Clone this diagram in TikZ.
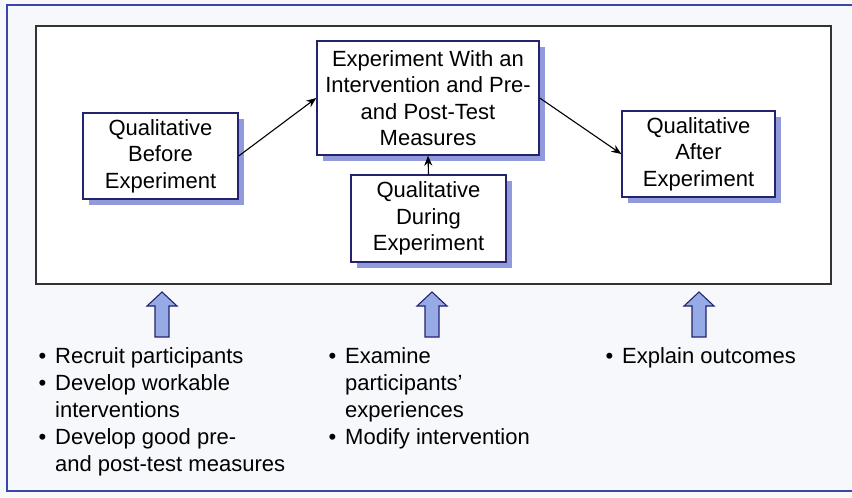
\documentclass[tikz,border=0pt]{standalone}
\usepackage{fontspec}
\setmainfont{Liberation Sans}
\usetikzlibrary{arrows.meta,shadows}

\definecolor{frameblue}{RGB}{60,70,170}
\definecolor{boxline}{RGB}{35,35,110}
\definecolor{shadeblue}{RGB}{145,155,220}
\definecolor{arrowfill}{RGB}{150,170,230}
\definecolor{paper}{RGB}{247,248,252}

\begin{document}
\begin{tikzpicture}[x=1pt,y=-1pt,
    stage/.style={draw=boxline,line width=1.4pt,fill=white,align=center,inner sep=0pt,
      font=\fontsize{22}{26.5}\selectfont,
      drop shadow={shadow xshift=6pt,shadow yshift=-6pt,fill=shadeblue,opacity=1}},
    link/.style={-{Stealth[length=10pt,width=8pt]},line width=1.1pt},
    upblock/.style={draw=boxline,line width=1.1pt,fill=arrowfill},
    bullets/.style={anchor=base west,inner sep=0pt,font=\fontsize{22}{27}\selectfont}]

    \useasboundingbox (0,0) rectangle (852,498);
    \fill[paper] (0,0) rectangle (852,498);

    \draw[frameblue,line width=1.2pt] (856,5) -- (7,5) -- (7,491) -- (856,491);
    \draw[black!80,line width=1.1pt,fill=white] (36,26) rectangle (831,284);

    \node[stage,minimum width=155pt,minimum height=86pt] (before) at (160.5,156)
        {Qualitative\\Before\\Experiment};
    \node[stage,minimum width=222pt,minimum height=114pt] (main) at (428,98)
        {Experiment With an\\Intervention and Pre-\\and Post-Test\\Measures};
    \node[stage,minimum width=155pt,minimum height=87pt] (during) at (428.5,218.5)
        {Qualitative\\During\\Experiment};
    \node[stage,minimum width=153pt,minimum height=86pt] (after) at (698.5,154)
        {Qualitative\\After\\Experiment};

    \draw[link] (before.east) -- (main.west);
    \draw[link] (main.east) -- (after.west);
    \draw[link] (during.north) -- (main.south);

    \foreach \x in {162,432,699}
        \draw[upblock] (\x-7,337) -- (\x-7,306) -- (\x-15,306) -- (\x,292)
            -- (\x+15,306) -- (\x+7,306) -- (\x+7,337) -- cycle;

    \node[bullets] (todo1) at (38.3,363) {\begin{tabular}[t]{@{}l@{\hspace{9pt}}l@{}}
        \textbullet & Recruit participants\\
        \textbullet & Develop workable\\
                    & interventions\\
        \textbullet & Develop good pre-\\
                    & and post-test measures
    \end{tabular}};
    \node[bullets] (todo2) at (328.3,363) {\begin{tabular}[t]{@{}l@{\hspace{9pt}}l@{}}
        \textbullet & Examine\\
                    & participants'\\
                    & experiences\\
        \textbullet & Modify intervention
    \end{tabular}};
    \node[bullets] (todo3) at (605.3,363) {\begin{tabular}[t]{@{}l@{\hspace{9pt}}l@{}}
        \textbullet & Explain outcomes
    \end{tabular}};
\end{tikzpicture}
\end{document}
